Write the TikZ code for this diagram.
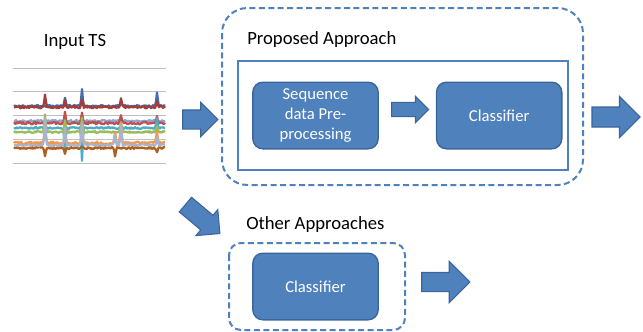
\documentclass[tikz,border=0pt]{standalone}
\usepackage{fontspec}
\setmainfont{Carlito}
\usetikzlibrary{positioning,shapes.arrows}
\definecolor{boxBlue}{HTML}{4F81BD}
\definecolor{boxLine}{HTML}{3A659A}
\definecolor{dashBlue}{HTML}{4F81BD}
\definecolor{tsBlue}{HTML}{3E6FB0}
\definecolor{tsDarkRed}{HTML}{A33D3B}
\definecolor{tsRed}{HTML}{C0504D}
\definecolor{tsLav}{HTML}{8EA4D2}
\definecolor{tsAqua}{HTML}{4BACC6}
\definecolor{tsGreen}{HTML}{9BBB59}
\definecolor{tsOrange}{HTML}{F79646}
\definecolor{tsBrown}{HTML}{B0601E}
\definecolor{tsGrey}{HTML}{A9B4CC}

\begin{document}
\begin{tikzpicture}
		[x=0.75pt, y=-0.75pt,
		declare function={spk(\t,\s)=max(0,1-abs(\t-\s)/1.5);},
		% STYLES
		% The heading style names each part of the figure
		heading/.style={inner sep=0pt, font=\fontsize{14}{17}\selectfont},
		% blue rounded boxes
		block/.style={rectangle, rounded corners=7.5pt, draw=boxLine, line width=1pt, fill=boxBlue, text=white, minimum width=94pt, minimum height=50pt, align=center, font=\fontsize{12.5}{15}\selectfont},
		% fat arrows between the parts
		fatArrow/.style={single arrow, draw=boxLine, line width=0.8pt, fill=boxBlue, inner xsep=0pt},
		% dashed frames round the approaches
		dashedFrame/.style={draw=dashBlue, line width=1.5pt, dash pattern=on 4.5pt off 2.6pt},
		% grid lines of the small chart
		gridLine/.style={draw=black!25, line width=0.6pt}]

		\useasboundingbox (0,0) rectangle (643,332);

		%%%%%%%%%%%%%%%
		% Input time series
		\node [heading] (inputTS) at (75,42) {Input TS};
		\foreach \gy in {68,91,115,139,163}
			\draw [gridLine] (13,\gy) -- (166,\gy);
		\pgfmathsetseed{7}
		\foreach \col/\base/\nz/\sa/\sb/\sc/\sd/\se/\sf in {
				tsBlue/106/1.0/0/-8/-17/0/-5/-14,
				tsDarkRed/107/1.3/-12/-6/-8/0/-9/-5,
				tsLav/121/1.0/0/0/0/0/0/0,
				tsRed/123/1.3/0/-10/-10/0/-8/-6,
				tsAqua/128/0.9/0/25/32/0/0/-10,
				tsGreen/132/0.8/-18/-12/-14/0/-10/-6,
				tsOrange/143/1.4/-20/-8/-10/-12/-20/-12,
				tsBrown/148/1.0/8/6/0/8/0/4,
				tsGrey/145/1.0/-27/-18/-22/-10/-20/-8}
			\draw [\col, line width=1.7pt, line join=round] plot [domain=14:165, samples=152]
				(\x, {\base+\nz*rand+(\sa)*spk(\x,45)+(\sb)*spk(\x,65)+(\sc)*spk(\x,82)+(\sd)*spk(\x,115)+(\se)*spk(\x,121)+(\sf)*spk(\x,157)});

		%%%%%%%%%%%%%%%
		% Proposed approach
		\draw [dashedFrame, rounded corners=19pt] (222,8) rectangle (583,185);
		\node [heading, anchor=west] (propTitle) at (247,40) {Proposed Approach};
		\draw [draw=boxBlue, line width=1.2pt] (238,61) rectangle (568,170);
		\node [block] (seq) at (315.5,115.5) {Sequence\\data Pre-\\processing};
		\node [block, right=42.75pt of seq] (clsA) {Classifier};

		%%%%%%%%%%%%%%%
		% Other approaches
		\node [heading, anchor=west] (otherTitle) at (246,225) {Other Approaches};
		\draw [dashedFrame, rounded corners=9pt] (229,243) rectangle (405,330);
		\node [block] (clsB) at (315.5,286.5) {Classifier};

		%%%%%%%%%%%%%%%%
		% Draw the fat arrows
		\node [fatArrow, minimum height=26.25pt, inner ysep=6.75pt, single arrow head extend=5.6pt] (inArr) at (195.5,119.5) {};
		\node [fatArrow, minimum height=27.75pt, inner ysep=4.9pt, single arrow head extend=4.5pt] (midArr) at (406.5,109.5) {};
		\node [fatArrow, minimum height=36pt, inner ysep=7.1pt, single arrow head extend=7.9pt] (outArr) at (611,117) {};
		\node [fatArrow, minimum height=33.75pt, inner ysep=6.75pt, single arrow head extend=5.6pt, rotate=-40] (downArr) at (199,216) {};
		\node [fatArrow, minimum height=36pt, inner ysep=6.75pt, single arrow head extend=8.25pt] (otherArr) at (441,282) {};
\end{tikzpicture}
\end{document}
